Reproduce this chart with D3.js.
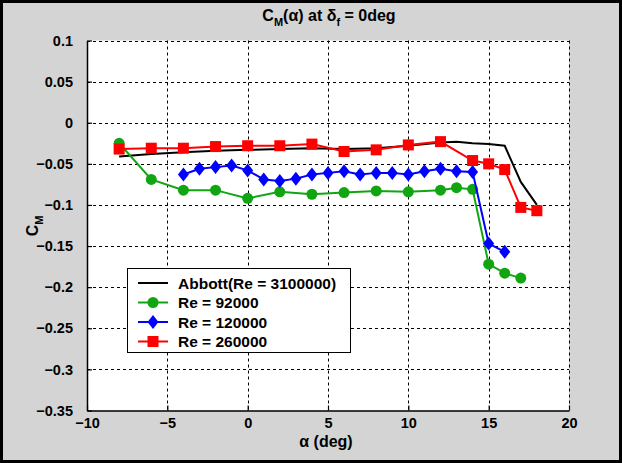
<!DOCTYPE html>
<html><head><meta charset="utf-8">
<script src="https://cdn.jsdelivr.net/npm/d3@7"></script>
<style>
html,body{margin:0;padding:0;background:#fff;}
svg{display:block;font-family:Arial,"Liberation Sans",sans-serif;font-weight:bold;}
</style></head>
<body>
<svg id="chart" width="622" height="463"></svg>
<script>
const xTicks = [-10,-5,0,5,10,15,20];
const yTicks = [0.1,0.05,0,-0.05,-0.1,-0.15,-0.2,-0.25,-0.3,-0.35];

const abbottAlpha = [-8,-6,-4,-2,0,2,4,6,8,10,12,13,14,15,16,17,18];
const abbottCm    = [-0.041,-0.038,-0.036,-0.034,-0.033,-0.032,-0.031,-0.032,-0.031,-0.028,-0.024,-0.023,-0.025,-0.026,-0.028,-0.072,-0.100];

const re92Alpha = [-8,-6,-4,-2,0,2,4,6,8,10,12,13,14,15,16,17];
const re92Cm    = [-0.025,-0.069,-0.082,-0.082,-0.092,-0.084,-0.087,-0.085,-0.083,-0.084,-0.082,-0.079,-0.081,-0.172,-0.183,-0.189];

const re120Alpha = [-4,-3,-2,-1,0,1,2,3,4,5,6,7,8,9,10,11,12,13,14,15,16];
const re120Cm    = [-0.063,-0.056,-0.054,-0.052,-0.058,-0.069,-0.071,-0.068,-0.063,-0.061,-0.059,-0.063,-0.061,-0.061,-0.063,-0.059,-0.056,-0.059,-0.060,-0.147,-0.157];

const re260Alpha = [-8,-6,-4,-2,0,2,4,6,8,10,12,14,15,16,17,18];
const re260Cm    = [-0.032,-0.031,-0.031,-0.029,-0.028,-0.028,-0.026,-0.035,-0.033,-0.027,-0.023,-0.046,-0.050,-0.057,-0.103,-0.107];

const seriesNames = ["Abbott(Re = 3100000)","Re = 92000","Re = 120000","Re = 260000"];

const series = [
  {name:seriesNames[0], a:abbottAlpha, c:abbottCm, color:"#000000", marker:null, w:2},
  {name:seriesNames[1], a:re92Alpha, c:re92Cm, color:"#11a611", marker:"circle", w:2},
  {name:seriesNames[2], a:re120Alpha, c:re120Cm, color:"#0000ff", marker:"diamond", w:2},
  {name:seriesNames[3], a:re260Alpha, c:re260Cm, color:"#ff0000", marker:"square", w:2}
];

const W=622,H=463;
const svg=d3.select("#chart");
svg.append("rect").attr("x",0).attr("y",0).attr("width",W).attr("height",H).attr("fill","#d4d4d4");
svg.append("rect").attr("x",1.5).attr("y",1.5).attr("width",W-3).attr("height",H-3)
  .attr("fill","none").attr("stroke","#000").attr("stroke-width",3);

const L=87,R=569,T=40.5,B=410.5;
const x=d3.scaleLinear().domain([-10,20]).range([L,R]);
const y=d3.scaleLinear().domain([-0.35,0.1]).range([B,T]);

svg.append("rect").attr("x",L).attr("y",T).attr("width",R-L).attr("height",B-T).attr("fill","#fff");

const g=svg.append("g");
g.selectAll(".vg").data(xTicks.slice(1)).join("line")
  .attr("x1",d=>Math.round(x(d))+0.5).attr("x2",d=>Math.round(x(d))+0.5)
  .attr("y1",T).attr("y2",B).attr("stroke","#000").attr("stroke-width",1).attr("stroke-dasharray","3,3");
g.selectAll(".hg").data(yTicks.slice(0,-1)).join("line")
  .attr("y1",d=>Math.round(y(d))+0.5).attr("y2",d=>Math.round(y(d))+0.5)
  .attr("x1",L).attr("x2",R).attr("stroke","#000").attr("stroke-width",1).attr("stroke-dasharray","3,3");

const xAxis=d3.axisBottom(x).tickValues(xTicks).tickSizeInner(-5).tickSizeOuter(0).tickPadding(9).tickFormat(d3.format("d"));
const yAxis=d3.axisLeft(y).tickValues(yTicks).tickSizeInner(-5).tickSizeOuter(0).tickPadding(14).tickFormat(d=>d3.format("")(+d.toFixed(2)));
const gx=svg.append("g").attr("transform",`translate(0,${B})`).call(xAxis);
const gy=svg.append("g").attr("transform",`translate(${L},0)`).call(yAxis);
[gx,gy].forEach(a=>{
  a.select(".domain").attr("stroke","#000").attr("stroke-width",1.5);
  a.selectAll(".tick line").attr("stroke","#000").attr("stroke-width",1.2);
  a.selectAll(".tick text").attr("fill","#000").attr("font-size","14.5px").attr("font-weight","bold")
   .attr("font-family","Arial, 'Liberation Sans', sans-serif");
});
gx.selectAll(".tick text").attr("dy","0.6em");

const line=d3.line().x(d=>x(d[0])).y(d=>y(d[1]));
function drawMarker(sel,type,color,cx,cy){
  if(type==="circle") sel.append("circle").attr("cx",cx).attr("cy",cy).attr("r",5.5).attr("fill",color);
  else if(type==="diamond") sel.append("path").attr("d",`M${cx},${cy-7}L${cx+5.5},${cy}L${cx},${cy+7}L${cx-5.5},${cy}Z`).attr("fill",color);
  else if(type==="square") sel.append("rect").attr("x",cx-5.5).attr("y",cy-5.5).attr("width",11).attr("height",11).attr("fill",color);
}
series.forEach(s=>{
  const pts=s.a.map((a,i)=>[a,s.c[i]]);
  svg.append("path").datum(pts).attr("d",line).attr("fill","none").attr("stroke",s.color).attr("stroke-width",s.w);
  if(s.marker){
    const mg=svg.append("g");
    pts.forEach(p=>drawMarker(mg,s.marker,s.color,x(p[0]),y(p[1])));
  }
});

const lg=svg.append("g");
lg.append("rect").attr("x",127.5).attr("y",268.5).attr("width",223).attr("height",84).attr("fill","#fff").attr("stroke","#000").attr("stroke-width",1);
series.forEach((s,i)=>{
  const yy=283+i*19.5;
  lg.append("line").attr("x1",138).attr("x2",168).attr("y1",yy).attr("y2",yy).attr("stroke",s.color).attr("stroke-width",2);
  if(s.marker) drawMarker(lg,s.marker,s.color,153,yy);
  lg.append("text").attr("x",178).attr("y",yy).attr("dy","0.36em").attr("font-size","15.5px").attr("fill","#000")
    .attr("textLength", null).text(s.name);
});

const title=svg.append("text").attr("x",329).attr("y",21).attr("text-anchor","middle").attr("font-size","16px").attr("fill","#000");
title.append("tspan").text("C");
title.append("tspan").attr("font-size","11px").attr("dy","5").text("M");
title.append("tspan").attr("dy","-5").text("(α) at δ");
title.append("tspan").attr("font-size","11px").attr("dy","5").text("f");
title.append("tspan").attr("dy","-5").text(" = 0deg");

svg.append("text").attr("x",326).attr("y",447).attr("text-anchor","middle").attr("font-size","16px").attr("fill","#000").text("α (deg)");
const yl=svg.append("text").attr("transform","translate(38,226) rotate(-90)").attr("text-anchor","middle").attr("font-size","16px").attr("fill","#000");
yl.append("tspan").text("C");
yl.append("tspan").attr("font-size","11px").attr("dy","5").text("M");
</script>
</body></html>
